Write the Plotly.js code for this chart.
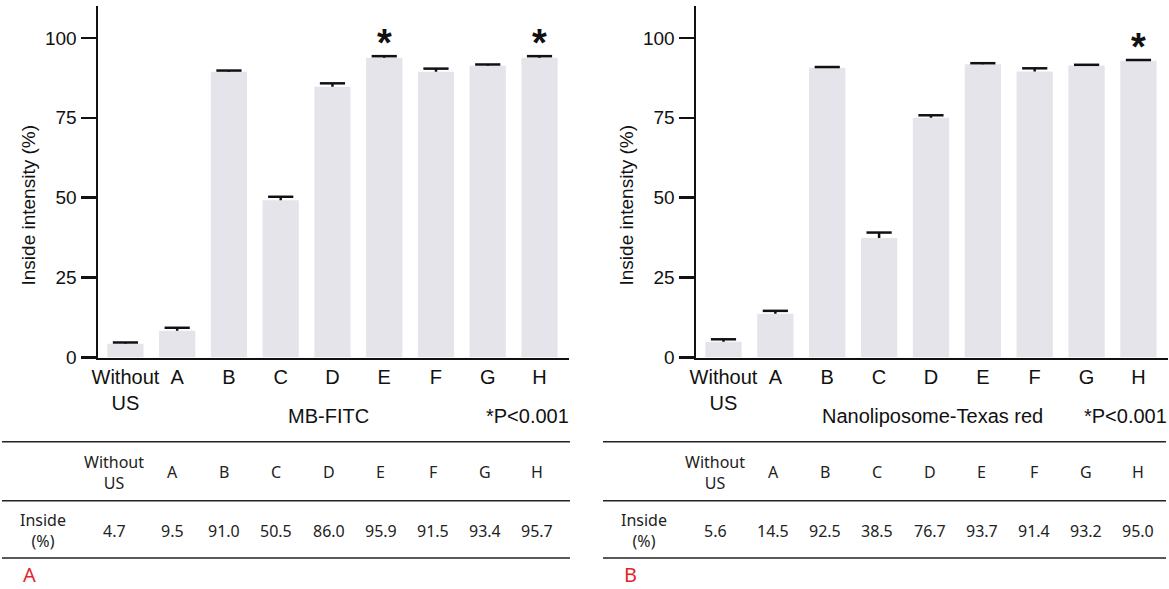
<!DOCTYPE html>
<html>
<head>
<meta charset="utf-8">
<script src="https://cdn.plot.ly/plotly-3.0.1.min.js"></script>
<style>
  html, body { margin: 0; padding: 0; background: #fff; }
  #chart { width: 1169px; height: 589px; }
</style>
</head>
<body>
<div id="chart"></div>
<script>
// ---------------- data ----------------
const categories = ['Without<br>US', 'A', 'B', 'C', 'D', 'E', 'F', 'G', 'H'];

// bar heights and upper error
const mbFitcBars = [4.3, 8.4, 89.4, 49.2, 84.7, 93.8, 89.4, 91.3, 93.8];
const mbFitcErr  = [0.4, 0.9, 0.4, 1.1, 1.1, 0.5, 1.0, 0.4, 0.5];
const nanoBars   = [4.9, 13.7, 90.7, 37.4, 75.0, 91.8, 89.5, 91.4, 92.9];
const nanoErr    = [0.8, 0.9, 0.2, 1.7, 0.8, 0.3, 1.0, 0.2, 0.2];

// table values printed under each chart
const mbFitcTable = ['4.7', '9.5', '91.0', '50.5', '86.0', '95.9', '91.5', '93.4', '95.7'];
const nanoTable   = ['5.6', '14.5', '92.5', '38.5', '76.7', '93.7', '91.4', '93.2', '95.0'];

// significance markers
const mbFitcSig = ['E', 'H'];
const nanoSig   = ['H'];

const yTicks = [0, 25, 50, 75, 100];
const yTitle = 'Inside intensity (%)';
const rowLabel = 'Inside<br>(%)';
const mbFitcName = 'MB-FITC';
const nanoName = 'Nanoliposome-Texas red';
const pNote = '*P&lt;0.001';
const panelLabels = ['A', 'B'];

// ---------------- layout helpers ----------------
const W = 1169, H = 589;
const px = v => v / W;
const py = v => 1 - v / H;
const chartFont = 'Liberation Sans, Arial, Helvetica, sans-serif';
const tableFont = 'Noto Sans, Open Sans, sans-serif';
const ink = '#111';
const barColor = '#e5e4ea';

function barTraces(vals, err, xa, ya) {
  const tops = vals.map((v, i) => v + err[i]);
  return [{
    type: 'bar', x: categories, y: vals, xaxis: xa, yaxis: ya,
    marker: { color: barColor, line: { width: 0 } },
    error_y: { type: 'data', symmetric: false, array: err, arrayminus: err.map(() => 0),
               color: ink, thickness: 2.5, width: 0 },
    hoverinfo: 'skip', showlegend: false
  }, {
    // caps of the error bars (upper side only)
    type: 'scatter', mode: 'markers', x: categories, y: tops, xaxis: xa, yaxis: ya,
    marker: { symbol: 'line-ew', size: 18, color: ink, line: { color: ink, width: 2.5 } },
    hoverinfo: 'skip', showlegend: false, cliponaxis: false
  }];
}

function xAxis(d0, d1, anchor) {
  return {
    domain: [px(d0), px(d1)], anchor: anchor, type: 'category',
    range: [-0.53, 8.57], showline: true, linewidth: 2.5, linecolor: ink,
    ticks: '', showgrid: false, zeroline: false, fixedrange: true,
    tickfont: { family: chartFont, size: 20, color: ink }
  };
}
function yAxis(anchor) {
  return {
    domain: [py(357.5), py(6)], anchor: anchor, range: [0, 110],
    tickmode: 'array', tickvals: yTicks, ticktext: yTicks.map(String),
    ticks: 'outside', ticklen: 15, tickwidth: 2.5, tickcolor: ink,
    showline: true, linewidth: 2.5, linecolor: ink,
    showgrid: false, zeroline: false, fixedrange: true,
    tickfont: { family: chartFont, size: 19, color: ink }
  };
}

const annotations = [];
const shapes = [];

function addChartText(offset, name, nameX, sig, vals, err, xref, yref) {
  annotations.push({ xref: 'paper', yref: 'paper', x: px(offset + 28), y: py(205.5),
    text: yTitle, textangle: -90, showarrow: false, xanchor: 'center', yanchor: 'middle',
    font: { family: chartFont, size: 19, color: ink } });
  annotations.push({ xref: 'paper', yref: 'paper', x: px(nameX), y: py(415.5),
    text: name, showarrow: false, xanchor: 'center', yanchor: 'middle',
    font: { family: chartFont, size: 20, color: ink } });
  annotations.push({ xref: 'paper', yref: 'paper', x: px(offset + 571), y: py(415.5),
    text: pNote, showarrow: false, xanchor: 'right', yanchor: 'middle',
    font: { family: chartFont, size: 20, color: ink } });
  sig.forEach(c => {
    const i = categories.indexOf(c);
    annotations.push({ xref: xref, yref: yref, x: c, y: vals[i] + err[i],
      text: '<b>*</b>', showarrow: false, xanchor: 'center', yanchor: 'middle', yshift: 13,
      font: { family: chartFont, size: 38, color: ink } });
  });
}

function addTable(left, right, values, label) {
  [441.7, 500.7, 558].forEach(yy => shapes.push({ type: 'line', xref: 'paper', yref: 'paper',
    x0: px(left + 2), x1: px(right), y0: py(yy), y1: py(yy), line: { color: '#222', width: 1.5 } }));
  const colX = i => (i === 0 ? left + 114 : left + 172 + (i - 1) * 52.2);
  categories.forEach((c, i) => {
    annotations.push({ xref: 'paper', yref: 'paper', x: px(colX(i)), y: py(472),
      text: c, showarrow: false, xanchor: 'center', yanchor: 'middle',
      font: { family: tableFont, size: 16, color: '#222' } });
    annotations.push({ xref: 'paper', yref: 'paper', x: px(colX(i)), y: py(531),
      text: values[i], showarrow: false, xanchor: 'center', yanchor: 'middle',
      font: { family: tableFont, size: 16, color: '#222' } });
  });
  annotations.push({ xref: 'paper', yref: 'paper', x: px(left + 43), y: py(530.5),
    text: rowLabel, showarrow: false, xanchor: 'center', yanchor: 'middle',
    font: { family: tableFont, size: 16, color: '#222' } });
  annotations.push({ xref: 'paper', yref: 'paper', x: px(left + 29), y: 0,
    text: label, showarrow: false, xanchor: 'center', yanchor: 'bottom', borderpad: 0,
    font: { family: tableFont, size: 20, color: '#e0262e' } });
}

addChartText(0, mbFitcName, 328, mbFitcSig, mbFitcBars, mbFitcErr, 'x', 'y');
addChartText(598, nanoName, 932, nanoSig, nanoBars, nanoErr, 'x2', 'y2');
addTable(0, 570, mbFitcTable, panelLabels[0]);
addTable(601, 1166, nanoTable, panelLabels[1]);

const data = [].concat(
  barTraces(mbFitcBars, mbFitcErr, 'x', 'y'),
  barTraces(nanoBars, nanoErr, 'x2', 'y2')
);

const layout = {
  width: W, height: H,
  margin: { l: 0, r: 0, t: 0, b: 0, pad: 0 },
  paper_bgcolor: '#fff', plot_bgcolor: 'rgba(0,0,0,0)',
  bargap: 0.3, showlegend: false,
  font: { family: chartFont, color: ink },
  xaxis: xAxis(98, 569, 'y'),
  yaxis: yAxis('x'),
  xaxis2: xAxis(696, 1168, 'y2'),
  yaxis2: yAxis('x2'),
  annotations: annotations,
  shapes: shapes
};

Plotly.newPlot('chart', data, layout, { displayModeBar: false, staticPlot: true });
</script>
</body>
</html>
